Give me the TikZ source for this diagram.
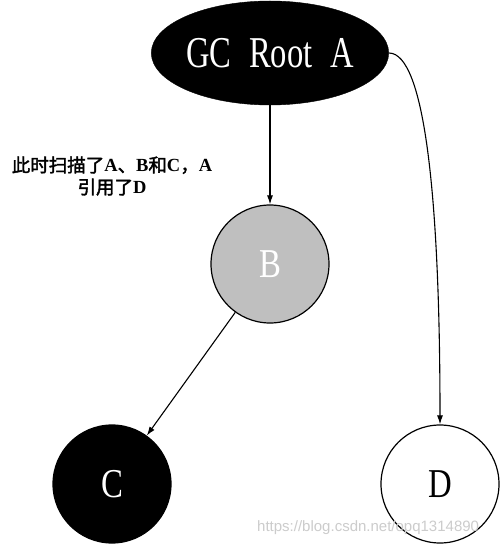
\documentclass[tikz,border=0pt]{standalone}
\usepackage{fontspec}
\setmainfont{Liberation Serif}
\newfontfamily\cjk[AutoFakeBold=2]{Noto Sans CJK SC}
\newfontfamily\wmfont{Liberation Sans}
\usetikzlibrary{arrows.meta,shapes.geometric}
\begin{document}
\begin{tikzpicture}[x=1pt,y=-1pt,
  conn/.style={draw=black,line width=1.1pt,-{Latex[length=9pt,width=6pt]}},
  circnode/.style={circle,draw=black,line width=1.2pt,minimum size=118pt,inner sep=0pt},
  lat/.style={},
]
\useasboundingbox (0,0) rectangle (501,545);
\fill[white] (0,0) rectangle (501,545);
\node[ellipse,fill=black,draw=black,minimum width=237pt,minimum height=104pt,inner sep=0pt,text=white] (A) at (270,53)
  {\fontsize{44}{44}\selectfont\scalebox{0.74}[1]{GC\hspace{0.55em}Root\hspace{0.55em}A}};
\node[circnode,fill=black!25,text=white] (B) at (270,264) {\fontsize{41}{41}\selectfont\scalebox{0.8}[1]{B}};
\node[circnode,fill=black,text=white] (C) at (112,484) {\fontsize{41}{41}\selectfont\scalebox{0.8}[1]{C}};
\node[circnode,fill=white,text=black] (D) at (440,484) {\fontsize{41}{41}\selectfont\scalebox{0.8}[1]{D}};
\node[align=center,font=\cjk\bfseries\fontsize{18.5}{22}\selectfont,inner sep=0pt] (note) at (112,176)
  {此时扫描了{\rmfamily\bfseries A}、{\rmfamily\bfseries B}和{\rmfamily\bfseries C}，{\rmfamily\bfseries A}\\引用了{\rmfamily\bfseries D}};
\draw[conn] (A) -- (B);
\draw[conn] (B) -- (C);
\draw[conn] (A.east) .. controls (425,53) and (440,200) .. (D.north);
\node[anchor=base west,text=black!20,font=\wmfont\fontsize{15}{15}\selectfont,inner sep=0pt] (wm) at (257,531) {https://blog.csdn.net/opq1314890};
\end{tikzpicture}
\end{document}
